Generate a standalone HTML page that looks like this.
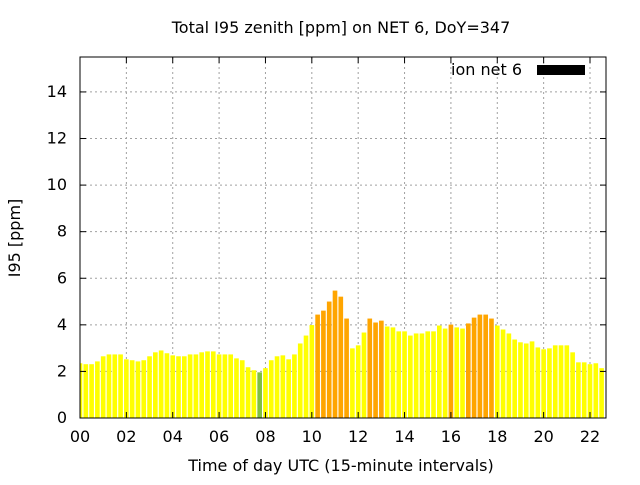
<!DOCTYPE html>
<html><head><meta charset="utf-8"><style>
body{margin:0;background:#fff;}
svg text{font-family:"DejaVu Sans","Liberation Sans",sans-serif;font-size:16px;fill:#000;}
</style></head><body>
<svg id="chart" width="640" height="480" xmlns="http://www.w3.org/2000/svg">
<rect width="640" height="480" fill="#fff"/>
<text x="341" y="33" text-anchor="middle">Total I95 zenith [ppm] on NET 6, DoY=347</text>
<text x="341" y="471" text-anchor="middle">Time of day UTC (15-minute intervals)</text>
<text transform="translate(20,238) rotate(-90)" text-anchor="middle">I95 [ppm]</text>
<g id="grid"></g>
<g id="bars"></g>
<g id="axes"></g>
<text x="522" y="75" text-anchor="end">ion net 6</text>
<rect x="537" y="65" width="48" height="10" fill="#000"/>
</svg>
<script>
const values = [2.35,2.31,2.31,2.43,2.65,2.73,2.73,2.73,2.52,2.48,2.43,2.48,2.65,2.82,2.9,2.78,2.69,2.65,2.65,2.73,2.73,2.82,2.86,2.86,2.73,2.73,2.73,2.56,2.48,2.18,2.05,1.96,2.14,2.48,2.65,2.69,2.52,2.73,3.2,3.54,3.99,4.44,4.61,5.0,5.47,5.21,4.27,2.99,3.12,3.67,4.27,4.1,4.18,3.93,3.89,3.72,3.72,3.54,3.63,3.63,3.72,3.72,3.97,3.84,4.01,3.89,3.84,4.06,4.31,4.44,4.44,4.27,3.97,3.8,3.63,3.37,3.25,3.2,3.29,3.03,2.95,2.99,3.12,3.12,3.12,2.82,2.39,2.39,2.31,2.35,2.14];
const xTickLabels = ["00","02","04","06","08","10","12","14","16","18","20","22"];
const yTickLabels = ["0","2","4","6","8","10","12","14"];
const NS="http://www.w3.org/2000/svg";
const L=80,R=606,T=57,B=418,XMAX=22.69,YMAX=15.5;
const xs=h=>L+h/XMAX*(R-L);
const ys=v=>B-v/YMAX*(B-T);
function mk(tag,attrs,parent){const e=document.createElementNS(NS,tag);for(const k in attrs)e.setAttribute(k,attrs[k]);document.getElementById(parent).appendChild(e);return e;}
xTickLabels.forEach((lab,i)=>{const h=i*2,x=xs(h);
 if(i>0){const g=mk('line',{x1:x,x2:x,y1:T,y2:B,stroke:'#a0a0a0','stroke-dasharray':'2,3'},'grid');
 
 }
});
yTickLabels.forEach((lab,i)=>{const v=i*2,y=ys(v);
 if(i>0){const g=mk('line',{x1:L,x2:R,y1:y,y2:y,stroke:'#a0a0a0','stroke-dasharray':'2,3'},'grid');
 
 }
});
const bw=0.2;
values.forEach((v,i)=>{const h=i*0.25;let x0=xs(h-bw/2),x1=xs(h+bw/2);x0=Math.max(x0,L);x1=Math.min(x1,R);
 const c=v<2?'#80c040':(v>=4?'#ffa500':'#ffff00');
 const r=mk('rect',{x:x0,y:ys(v),width:x1-x0,height:B-ys(v),fill:c},'bars');
 
 
});
const f=mk('rect',{x:L,y:T,width:R-L,height:B-T,fill:'none',stroke:'#000','stroke-width':1},'axes');


xTickLabels.forEach((lab,i)=>{const x=xs(i*2);
 mk('line',{x1:x,x2:x,y1:B,y2:B-6,stroke:'#000'},'axes');
 mk('line',{x1:x,x2:x,y1:T,y2:T+6,stroke:'#000'},'axes');
 const t=mk('text',{x:x,y:B+24,'text-anchor':'middle'},'axes');t.textContent=lab;
 
 
});
yTickLabels.forEach((lab,i)=>{const y=ys(i*2);
 mk('line',{x1:L,x2:L+6,y1:y,y2:y,stroke:'#000'},'axes');
 mk('line',{x1:R,x2:R-6,y1:y,y2:y,stroke:'#000'},'axes');
 const t=mk('text',{x:L-13,y:y+5,'text-anchor':'end'},'axes');t.textContent=lab;
 
 
});
</script>
</body></html>
